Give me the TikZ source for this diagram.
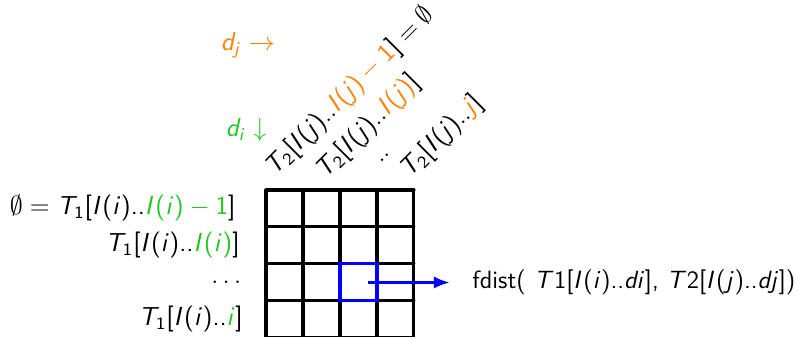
\documentclass[tikz,border=0pt,12pt]{standalone}
\usepackage{amsmath,amssymb}
\renewcommand{\familydefault}{\sfdefault}
\usepackage{tikz}
\usetikzlibrary{arrows.meta,positioning,calc}
\usepackage{xcolor}
% sans serif math letters, digits and delimiters
\DeclareSymbolFont{sfletters}{OT1}{cmss}{m}{sl}
\DeclareSymbolFont{sfops}{OT1}{cmss}{m}{n}
\DeclareMathSymbol{T}{\mathalpha}{sfletters}{"54}
\DeclareMathSymbol{I}{\mathalpha}{sfletters}{"49}
\DeclareMathSymbol{i}{\mathalpha}{sfletters}{"69}
\DeclareMathSymbol{j}{\mathalpha}{sfletters}{"6A}
\DeclareMathSymbol{d}{\mathalpha}{sfletters}{"64}
\DeclareMathSymbol{1}{\mathalpha}{sfops}{"31}
\DeclareMathSymbol{2}{\mathalpha}{sfops}{"32}
\DeclareMathSymbol{(}{\mathopen}{sfops}{"28}
\DeclareMathSymbol{)}{\mathclose}{sfops}{"29}
\DeclareMathSymbol{[}{\mathopen}{sfops}{"5B}
\DeclareMathSymbol{]}{\mathclose}{sfops}{"5D}
\DeclareMathSymbol{.}{\mathord}{sfops}{"2E}
\DeclareMathSymbol{=}{\mathrel}{sfops}{"3D}
\definecolor{djcol}{RGB}{255,128,0}
\definecolor{dicol}{RGB}{30,200,30}
\tikzset{
  gridline/.style = {line width=1.4pt, line cap=round, step=1},
  hilite/.style   = {draw=blue, line width=1.4pt},
  sig/.style      = {-{Latex[length=2.6mm,width=2mm]}, blue, line width=1.4pt},
  rowlbl/.style   = {anchor=east, inner sep=0pt},
  collbl/.style   = {anchor=base west, inner sep=0pt, rotate=45},
}
\newcommand{\colj}[1]{\textcolor{djcol}{#1}}
\newcommand{\coli}[1]{\textcolor{dicol}{#1}}

\begin{document}
\begin{tikzpicture}[x=0.6cm, y=0.6cm]
\useasboundingbox (-7.19,-3.96) rectangle (14.38,5.135);
% table of distances
\draw[gridline] (0,0) grid (4,-4);
\draw[hilite] (2,-2) rectangle (3,-3);
\coordinate (cur) at (2.75,-2.5);

% direction hints
\node (dj) at (-0.49,3.92) {$\colj{d_j \rightarrow}$};
\node (di) at (-0.54,1.62) {$\coli{d_i \downarrow}$};

% column prefixes of T2
\node[collbl] (c1) at (0.22,0.36) {$T_2[I(j)..\colj{I(j)-1}] = \emptyset$};
\node[collbl] (c2) at (1.58,0.28) {$T_2[I(j)..\colj{I(j)}]$};
\node[collbl] (c3) at (3.08,0.71) {$..$};
\node[collbl] (c4) at (3.86,0.30) {$T_2[I(j)..\colj{j}]$};

% row prefixes of T1
\node[rowlbl] (r1) at (-0.81,-0.5) {$\emptyset = T_1[I(i)..\coli{I(i)-1}]$};
\node[rowlbl] (r2) at (-0.70,-1.5) {$T_1[I(i)..\coli{I(i)}]$};
\node[rowlbl] (r3) at (-0.54,-2.5) {$\dots$};
\node[rowlbl] (r4) at (-0.62,-3.5) {$T_1[I(i)..\coli{i}]$};

% result of the highlighted cell
\node[anchor=west, inner sep=0pt, scale=0.96] (res) at (5.57,-2.5)
   {fdist( $T1[I(i)..di]$, $T2[I(j)..dj]$)};
\draw[sig, shorten >=3.6mm] (cur) -- (res.west);
\end{tikzpicture}
\end{document}
